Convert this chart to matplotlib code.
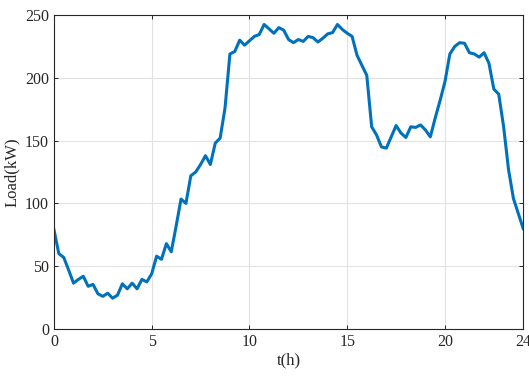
import numpy as np
import matplotlib
matplotlib.use("Agg")
import matplotlib.pyplot as plt

# Load sampled every 15 min over one day
t_hours = np.arange(0, 24.01, 0.25)
load_kw = [
    79, 60, 57, 47, 36.5, 39.5, 42, 34, 35.5, 28, 26, 28.5, 24.5, 27, 36, 32,
    36.5, 32, 39.5, 37.5, 44, 58, 55.5, 68, 61.5, 82, 103.5, 100, 122, 125, 131, 138,
    131, 148, 152, 176, 219, 221, 230, 226, 229.5, 233, 234.5, 242.5, 239, 235.5, 240, 238,
    230.5, 228, 230.5, 229, 233, 232, 228.5, 231.5, 235, 236, 242.5, 238.5, 235.5, 233, 218, 210,
    202, 161, 154.5, 145, 144, 153, 162, 156, 152.5, 161, 160.5, 162.5, 158.5, 153, 168, 182,
    197, 219, 225, 228, 227.5, 220, 219, 216.5, 220, 211.5, 191, 187, 161, 127, 104, 92,
    80,
]
x_ticks = [0, 5, 10, 15, 20, 24]
y_ticks = [0, 50, 100, 150, 200, 250]

plt.rcParams['font.family'] = ['Liberation Serif', 'DejaVu Serif']

fig = plt.figure(figsize=(5.29, 3.76), dpi=100)
ax = fig.add_axes([0.102, 0.125, 0.887, 0.835])
ax.plot(t_hours, load_kw, color='#0072BD', linewidth=2.2)

ax.set_xlim(0, 24)
ax.set_ylim(0, 250)
ax.set_xticks(x_ticks)
ax.set_yticks(y_ticks)
ax.grid(True, color='#e2e2e2', linewidth=0.8)
ax.tick_params(direction='in', top=True, right=True, labelsize=11.5,
               length=3, width=0.7, colors='#262626', labelcolor='#262626')
for s in ax.spines.values():
    s.set_color('#262626')
    s.set_linewidth(0.8)

ax.set_xlabel('t(h)', fontsize=12, color='#262626', labelpad=2)
ax.set_ylabel('Load(kW)', fontsize=12, color='#262626', labelpad=4)

fig.savefig('out.png', dpi=100)
